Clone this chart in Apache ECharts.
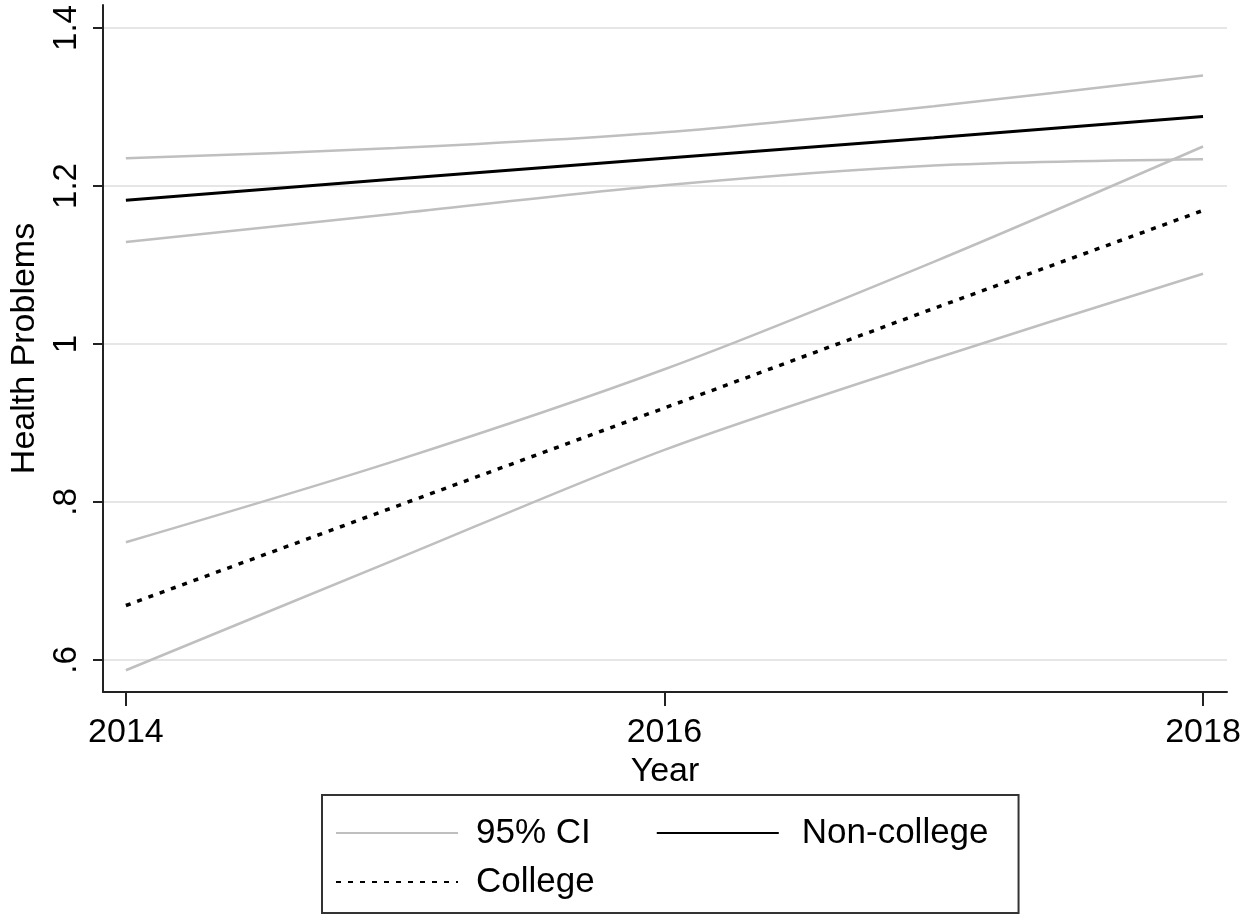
<!DOCTYPE html>
<html>
<head>
<meta charset="utf-8">
<script src="https://cdn.jsdelivr.net/npm/echarts@6/dist/echarts.min.js"></script>
<style>
  html, body { margin: 0; padding: 0; background: #fff; }
  #chart { width: 1252px; height: 915px; }
</style>
</head>
<body>
<div id="chart"></div>
<script>
// values
var years = [2014, 2015, 2016, 2017, 2018];
var nonCollege   = [1.182, 1.209, 1.235, 1.261, 1.288];
var nonCollegeHi = [1.235, 1.248, 1.268, 1.301, 1.340];
var nonCollegeLo = [1.129, 1.165, 1.201, 1.226, 1.234];
var college      = [0.669, 0.794, 0.919, 1.045, 1.169];
var collegeHi    = [0.749, 0.852, 0.968, 1.104, 1.250];
var collegeLo    = [0.587, 0.727, 0.866, 0.981, 1.089];

var xTicks = [2014, 2016, 2018];
var yTicks = [0.6, 0.8, 1.0, 1.2, 1.4];
var yTickLabels = ['.6', '.8', '1', '1.2', '1.4'];

var FONT = '"Liberation Sans", Arial, sans-serif';

function pairs(vals) {
    return years.map(function (y, i) { return [y, vals[i]]; });
}

var chart = echarts.init(document.getElementById('chart'));

var ciLine = { color: '#bfbfbf', width: 2.5 };
function ci(vals) {
    return {
        name: '95% CI', type: 'line', data: pairs(vals),
        symbol: 'none', smooth: 0.3, z: 2,
        lineStyle: ciLine, itemStyle: { color: '#bfbfbf' }
    };
}

chart.setOption({
    animation: false,
    backgroundColor: '#fff',
    grid: { left: 103, right: 25, top: 5, bottom: 223 },
    xAxis: {
        type: 'value', min: 2013.915, max: 2018.089,
        name: 'Year', nameLocation: 'middle', nameGap: 60,
        nameTextStyle: { fontSize: 34, color: '#000', fontFamily: FONT },
        axisLine: { show: true, lineStyle: { color: '#222', width: 2 } },
        axisTick: { show: true, length: 14, customValues: xTicks, lineStyle: { color: '#222', width: 2 } },
        axisLabel: {
            customValues: xTicks, fontSize: 34, color: '#000', margin: 24, fontFamily: FONT,
            formatter: function (v) { return String(Math.round(v)); }
        },
        splitLine: { show: false }
    },
    yAxis: {
        type: 'value', min: 0.5595, max: 1.4291,
        name: 'Health Problems', nameLocation: 'middle', nameRotate: 90, nameGap: 58,
        nameTextStyle: { fontSize: 34, color: '#000', fontFamily: FONT },
        axisLine: { show: true, lineStyle: { color: '#222', width: 2 } },
        axisTick: { show: true, length: 10, customValues: yTicks, lineStyle: { color: '#222', width: 2 } },
        axisLabel: {
            customValues: yTicks, rotate: 90, fontSize: 33, color: '#000', margin: 20, fontFamily: FONT,
            formatter: function (v) {
                for (var i = 0; i < yTicks.length; i++) {
                    if (Math.abs(yTicks[i] - v) < 1e-6) return yTickLabels[i];
                }
                return '';
            }
        },
        splitLine: { show: true, lineStyle: { color: '#e6e6e6', width: 2 } }
    },
    legend: {
        data: [
            { name: '95% CI', textStyle: { padding: [0, 56, 0, 13] } },
            { name: 'Non-college', textStyle: { padding: [0, 0, 0, 18] } },
            { name: 'College', textStyle: { padding: [0, 0, 0, 13] } }
        ],
        orient: 'horizontal',
        left: 322, top: 795, width: 690,
        itemWidth: 122, itemHeight: 14, itemGap: 9,
        padding: [18, 30, 11, 13],
        borderColor: '#333', borderWidth: 2, borderRadius: 0,
        itemStyle: { opacity: 0 },
        textStyle: { fontSize: 35, lineHeight: 40, color: '#000', fontFamily: FONT }
    },
    series: [
        ci(nonCollegeHi),
        ci(nonCollegeLo),
        ci(collegeHi),
        ci(collegeLo),
        {
            name: 'Non-college', type: 'line', data: pairs(nonCollege),
            symbol: 'none', z: 3,
            lineStyle: { color: '#000', width: 3 }, itemStyle: { color: '#000' }
        },
        {
            name: 'College', type: 'line', data: pairs(college),
            symbol: 'none', z: 3,
            lineStyle: { color: '#000', width: 3.5, type: [5, 7] }, itemStyle: { color: '#000' }
        }
    ]
});

window.addEventListener('resize', function () {
    chart.resize();
});
</script>
</body>
</html>
